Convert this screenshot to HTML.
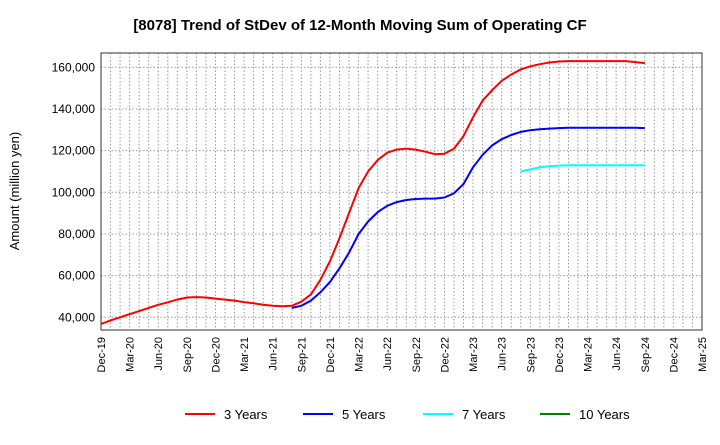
<!DOCTYPE html>
<html><head><meta charset="utf-8"><style>
body{margin:0;background:#fff;font-family:"Liberation Sans",sans-serif}
</style></head><body>
<svg id="chart" width="720" height="440" xmlns="http://www.w3.org/2000/svg" font-family="Liberation Sans, sans-serif">
<text x="360" y="30" text-anchor="middle" font-size="15" font-weight="bold">[8078]  Trend of StDev of 12-Month Moving Sum of Operating CF</text>
<text transform="translate(19,191) rotate(-90)" text-anchor="middle" font-size="13">Amount (million yen)</text>
<g id="grid"></g><g id="series"></g><g id="axes"></g>
<rect x="101" y="53" width="601" height="277" fill="none" stroke="#333" stroke-width="1"/>
<g id="legend"></g>
</svg>
<script>
const xLabels=["Dec-19","Mar-20","Jun-20","Sep-20","Dec-20","Mar-21","Jun-21","Sep-21","Dec-21","Mar-22","Jun-22","Sep-22","Dec-22","Mar-23","Jun-23","Sep-23","Dec-23","Mar-24","Jun-24","Sep-24","Dec-24","Mar-25"];
const yTicks=[40000,60000,80000,100000,120000,140000,160000];
const s3=[36.8,38.5,40,41.5,43,44.5,46,47.2,48.5,49.5,49.7,49.5,49,48.5,48,47.3,46.7,46,45.5,45.3,45.5,47.5,51,58,67,78,90,102,110,115.5,119,120.5,121,120.5,119.5,118.3,118.5,121,127,136,144,149,153.5,156.5,159,160.5,161.5,162.3,162.8,163,163,163,163,163,163,163,162.5,162];
const s5Start=20;
const s5=[44.5,45.5,48,52,57,63.5,71,80,86,90.5,93.5,95.3,96.3,96.8,97,97,97.5,99.5,104,112,118,122.5,125.5,127.5,129,129.8,130.3,130.6,130.8,131,131,131,131,131,131,131,131,130.8];
const s7Start=44;
const s7=[110,111,112,112.5,112.8,113,113,113,113,113,113,113,113,113];
const L=101,R=702,T=53,B=330,months=63;
const X=m=>L+m*(R-L)/months;
const Y=v=>317.3-(v-40000)*(250/120000);
const NS="http://www.w3.org/2000/svg";
function mk(tag,attrs,parent){const e=document.createElementNS(NS,tag);for(const k in attrs)e.setAttribute(k,attrs[k]);document.getElementById(parent).appendChild(e);return e;}
for(let m=1;m<months;m++){
const g=mk('line',{x1:X(m),x2:X(m),y1:T,y2:B,stroke:'#999','stroke-dasharray':'1.5,2','stroke-width':1},'grid');

}
yTicks.forEach(v=>{
const g=mk('line',{x1:L,x2:R,y1:Y(v),y2:Y(v),stroke:'#999','stroke-dasharray':'1.5,2','stroke-width':1},'grid');


const t=mk('text',{x:L-6,y:Y(v)+4,'text-anchor':'end','font-size':12},'axes');


t.textContent=v.toLocaleString('en-US');});
xLabels.forEach((lab,i)=>{
const x=X(i*3);
const t=mk('text',{transform:`translate(${x+4},337) rotate(-90)`,'text-anchor':'end','font-size':11},'axes');


t.textContent=lab;});
function line(arr,start,color,name){
const pts=arr.map((v,i)=>X(start+i).toFixed(1)+','+Y(v*1000).toFixed(1)).join(' ');
const p=mk('polyline',{points:pts,fill:'none',stroke:color,'stroke-width':2,'stroke-linejoin':'round'},'series');

}
line(s3,0,'#ff0000','series-3-years');
line(s5,s5Start,'#0000ff','series-5-years');
line(s7,s7Start,'#00ffff','series-7-years');
const leg=[["3 Years","#ff0000",185],["5 Years","#0000ff",303],["7 Years","#00ffff",423],["10 Years","#008000",540]];
leg.forEach(([n,c,x])=>{
const l=mk('line',{x1:x,x2:x+30,y1:414,y2:414,stroke:c,'stroke-width':2},'legend');


const t=mk('text',{x:x+39,y:419,'font-size':13},'legend');


t.textContent=n;});
</script>
</body></html>
